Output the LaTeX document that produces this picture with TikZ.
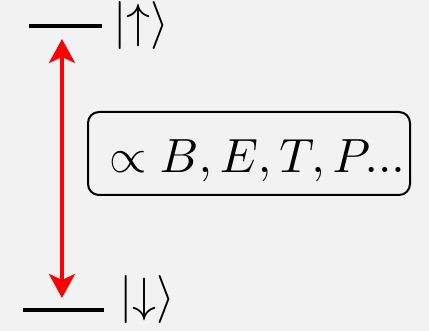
\documentclass[tikz,border=0pt]{standalone}
\usetikzlibrary{arrows.meta}
\begin{document}
\begin{tikzpicture}[x=1pt,y=1pt,
  level/.style={line width=4pt,black},
  ket/.style={anchor=base west,inner sep=0pt},
  trans/.style={red,line width=4pt,{Stealth[length=24pt,width=26pt,inset=6pt]}-{Stealth[length=24pt,width=26pt,inset=6pt]}},
  infobox/.style={draw,line width=2pt,rounded corners=11pt,minimum width=322pt,minimum height=83pt,inner sep=0pt}]
\fill[black!5] (0,0) rectangle (429,331);
\useasboundingbox (0,0) rectangle (429,331);
\coordinate (ul) at (29,305);
\coordinate (ur) at (102,305);
\coordinate (dl) at (23,21);
\coordinate (dr) at (104,21);
\draw[level] (ul) -- (ur);
\draw[level] (dl) -- (dr);
\node[ket] (up) at (113,293) {\scalebox{4.8}{$|{\uparrow}\rangle$}};
\node[ket] (down) at (119,19) {\scalebox{4.8}{$|{\downarrow}\rangle$}};
\coordinate (atop) at (62,292);
\coordinate (abot) at (62,33);
\draw[trans] (abot) -- (atop);
\node[infobox] (box) at (249,177.5) {};
\node[anchor=base,inner sep=0pt] (txt) at (257,158) {\scalebox{4.8}{$\propto B, E, T, P...$}};
\end{tikzpicture}
\end{document}
